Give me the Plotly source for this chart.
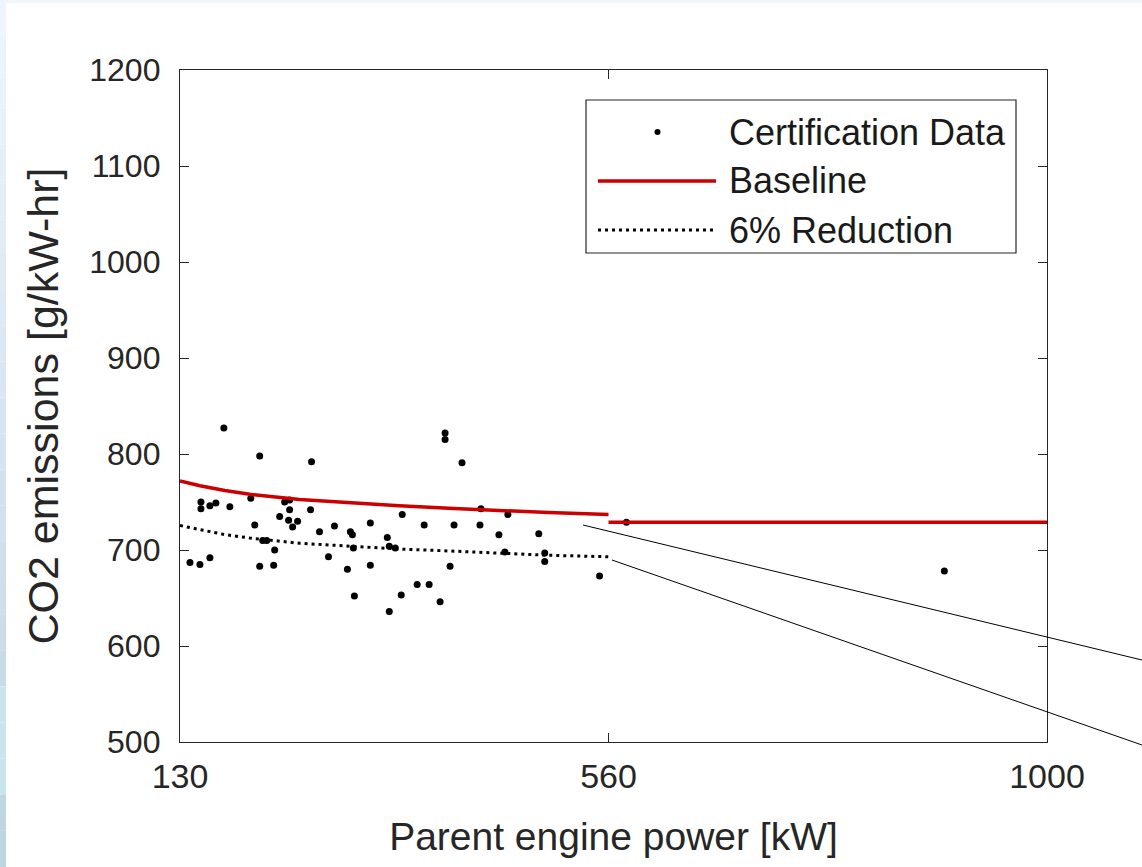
import plotly.graph_objects as go

# ---------------- data ----------------
cert_kw = [174, 210, 262, 151, 151, 160, 166, 180, 201, 235, 240, 240, 261, 230, 205,
           239, 243, 248, 270, 213, 217, 225, 140, 150, 160, 210, 224, 279, 396, 396,
           413, 353, 285, 301, 303, 321, 375, 405, 338, 340, 346, 304, 298, 321, 401,
           368, 380, 305, 352, 391, 340, 432, 459, 431, 450, 490, 456, 496, 496, 551,
           578, 897]
cert_co2 = [827, 798, 792, 750, 743, 746, 749, 745, 754, 750, 752, 742, 742, 735, 726,
            731, 724, 730, 719, 710, 710, 700, 687, 685, 692, 683, 684, 693, 822, 815,
            791, 737, 725, 719, 716, 728, 726, 726, 713, 704, 702, 702, 680, 684, 683,
            664, 664, 652, 653, 646, 636, 743, 737, 726, 716, 717, 698, 697, 688, 673,
            729, 678]

base_low_kw = [130, 150, 175, 200, 250, 300, 350, 400, 450, 500, 560]
base_low = [772, 767, 762, 758, 752.5, 749, 746, 743.5, 741, 739, 737]
base_high_kw = [560, 1000]
base_high = [729, 729]

red_kw = [130, 150, 175, 200, 250, 300, 350, 400, 450, 500, 560]
red_co2 = [725.5, 721, 716, 712.5, 707, 704, 701, 699, 696.5, 694.5, 693]

x_ticks = [130, 560, 1000]
y_ticks = [500, 600, 700, 800, 900, 1000, 1100, 1200]

legend_labels = ["Certification Data", "Baseline", "6% Reduction"]

# ---------------- figure ----------------
W, H = 1142, 867
L, R, T, B = 180, 95, 70, 125
PW, PH = W - L - R, H - T - B
AX = "#262626"
FONT = "Liberation Sans, Arial, Helvetica, sans-serif"


def px(xp):
    return (xp - L) / PW


def py(yp):
    return (H - B - yp) / PH


fig = go.Figure()

fig.add_trace(go.Scatter(
    x=cert_kw, y=cert_co2, mode="markers", name=legend_labels[0],
    marker=dict(color="black", size=7), showlegend=False))

fig.add_trace(go.Scatter(
    x=base_low_kw + [None] + base_high_kw, y=base_low + [None] + base_high,
    mode="lines", name=legend_labels[1],
    line=dict(color="#cc0000", width=3.5), showlegend=False))

fig.add_trace(go.Scatter(
    x=red_kw, y=red_co2, mode="lines", name=legend_labels[2],
    line=dict(color="black", width=3, dash="3px,4px"), showlegend=False))

shapes = []

# left / top edge tint of the screenshot
n = 24
c_top = (238, 245, 252)
c_bot = (192, 212, 226)
for i in range(n):
    f = i / (n - 1)
    c = tuple(int(round(c_top[k] + (c_bot[k] - c_top[k]) * f)) for k in range(3))
    if 0.8 < f < 0.92:
        c = (200, 228, 236)
    y0 = H * i / n
    y1 = H * (i + 1) / n
    shapes.append(dict(type="rect", xref="paper", yref="paper",
                       x0=px(0), x1=px(6), y0=py(y1), y1=py(y0),
                       fillcolor="rgb(%d,%d,%d)" % c, line=dict(width=0), layer="below"))
shapes.append(dict(type="rect", xref="paper", yref="paper",
                   x0=px(6), x1=px(W), y0=py(3), y1=py(0),
                   fillcolor="rgb(240,246,252)", line=dict(width=0), layer="below"))

# pointer lines leaving the frame
shapes.append(dict(type="line", xref="paper", yref="paper",
                   x0=px(583), y0=py(525), x1=px(1142), y1=py(660),
                   line=dict(color="black", width=1)))
shapes.append(dict(type="line", xref="paper", yref="paper",
                   x0=px(612), y0=py(560), x1=px(1142), y1=py(745),
                   line=dict(color="black", width=1)))

# legend box
shapes.append(dict(type="rect", xref="paper", yref="paper",
                   x0=px(586), x1=px(1016), y0=py(253), y1=py(100),
                   fillcolor="white", line=dict(color=AX, width=1.2)))
shapes.append(dict(type="circle", xref="paper", yref="paper",
                   x0=px(654.5), x1=px(660.5), y0=py(135), y1=py(129),
                   fillcolor="black", line=dict(width=0)))
shapes.append(dict(type="line", xref="paper", yref="paper",
                   x0=px(598), x1=px(716), y0=py(181), y1=py(181),
                   line=dict(color="#cc0000", width=3.5)))
shapes.append(dict(type="line", xref="paper", yref="paper",
                   x0=px(598), x1=px(716), y0=py(230), y1=py(230),
                   line=dict(color="black", width=3, dash="3px,4px")))

annotations = []
for lab, yc in zip(legend_labels, [132, 181, 230]):
    annotations.append(dict(text=lab, xref="paper", yref="paper",
                            x=px(727), y=py(yc), xanchor="left", yanchor="middle",
                            showarrow=False, font=dict(family=FONT, size=36, color="#1a1a1a")))

fig.update_layout(
    width=W, height=H,
    margin=dict(l=L, r=R, t=T, b=B),
    paper_bgcolor="white", plot_bgcolor="white",
    font=dict(family=FONT, color=AX),
    shapes=shapes, annotations=annotations,
    showlegend=False,
)

fig.update_xaxes(
    range=[130, 1000], tickvals=x_ticks, ticktext=[str(v) for v in x_ticks],
    ticks="inside", ticklen=9, tickwidth=1.2, tickcolor=AX,
    showline=True, linecolor=AX, linewidth=1.3, mirror="ticks",
    showgrid=False, zeroline=False, ticklabelstandoff=4,
    tickfont=dict(family=FONT, size=34, color=AX),
    title=dict(text="Parent engine power [kW]", standoff=28,
               font=dict(family=FONT, size=39, color=AX)),
)
fig.update_yaxes(
    range=[500, 1200], tickvals=y_ticks,
    ticks="inside", ticklen=9, tickwidth=1.2, tickcolor=AX,
    showline=True, linecolor=AX, linewidth=1.3, mirror="ticks",
    showgrid=False, zeroline=False, ticklabelstandoff=12,
    tickfont=dict(family=FONT, size=32, color=AX),
    title=dict(text="CO2 emissions [g/kW-hr]", standoff=17,
               font=dict(family=FONT, size=43, color=AX)),
)

fig.write_html("out.html", config={"displayModeBar": False},
               post_script="document.body.style.margin='0';")
